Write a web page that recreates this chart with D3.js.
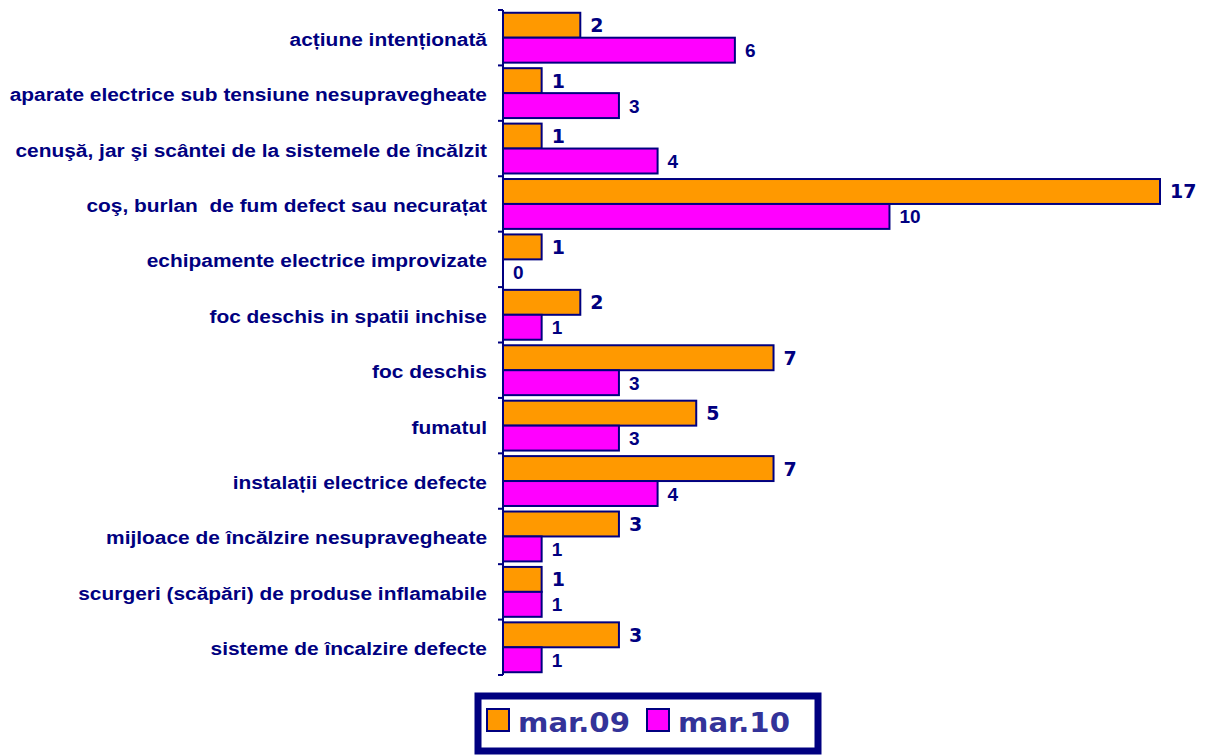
<!DOCTYPE html>
<html>
<head>
<meta charset="utf-8">
<script src="https://d3js.org/d3.v7.min.js"></script>
<style>
  body { margin: 0; background: #fff; }
</style>
</head>
<body>
<div id="chart"></div>
<script>
// Data
var categories = [
  "acțiune intenționată",
  "aparate electrice sub tensiune nesupravegheate",
  "cenuşă, jar şi scântei de la sistemele de încălzit",
  "coş, burlan  de fum defect sau necurațat",
  "echipamente electrice improvizate",
  "foc deschis in spatii inchise",
  "foc deschis",
  "fumatul",
  "instalații electrice defecte",
  "mijloace de încălzire nesupravegheate",
  "scurgeri (scăpări) de produse inflamabile",
  "sisteme de încalzire defecte"
];
var seriesNames = ["mar.09", "mar.10"];
var mar09 = [2, 1, 1, 17, 1, 2, 7, 5, 7, 3, 1, 3];
var mar10 = [6, 3, 4, 10, 0, 1, 3, 3, 4, 1, 1, 1];
var seriesColors = ["#FF9900", "#FF00FF"];

var width = 1208, height = 756;
var navy = "#000080";

var rows = categories.map(function(c, i){
  return {cat: c, values: [mar09[i], mar10[i]]};
});

var svg = d3.select("#chart").append("svg")
  .attr("width", width)
  .attr("height", height);

// Scales
var y = d3.scaleBand()
  .domain(categories)
  .range([10, 675])
  .paddingInner(0.1)
  .paddingOuter(0.05);

var ySub = d3.scaleBand()
  .domain(seriesNames)
  .range([0, y.bandwidth()]);

var x = d3.scaleLinear()
  .domain([0, 17])
  .range([503, 1160]);

// Category labels (slightly wide bold sans, as in the original)
svg.append("g").selectAll("text")
  .data(categories)
  .enter()
  .append("text")
  .attr("transform", function(d){
    return "translate(487," + (y(d) + y.bandwidth() / 2 + 8) + ") scale(1.1,1)";
  })
  .attr("text-anchor", "end")
  .style("white-space", "pre")
  .style("font-family", "'Liberation Sans', Arial, sans-serif")
  .style("font-weight", "bold")
  .style("font-size", "19px")
  .style("fill", navy)
  .text(function(d){ return d; });

// Bars
var groups = svg.append("g").selectAll("g")
  .data(rows)
  .enter()
  .append("g")
  .attr("transform", function(d){ return "translate(0," + y(d.cat) + ")"; });

groups.selectAll("rect")
  .data(function(d){ return d.values.map(function(v, k){ return {v: v, k: k}; }); })
  .enter()
  .filter(function(d){ return d.v > 0; })
  .append("rect")
  .attr("x", x(0))
  .attr("y", function(d){ return ySub(seriesNames[d.k]); })
  .attr("width", function(d){ return x(d.v) - x(0); })
  .attr("height", ySub.bandwidth())
  .attr("fill", function(d){ return seriesColors[d.k]; })
  .attr("stroke", navy)
  .attr("stroke-width", 2);

// Value labels: mar.09 in a Verdana-like face, mar.10 in an Arial-like face
groups.selectAll("text")
  .data(function(d){ return d.values.map(function(v, k){ return {v: v, k: k}; }); })
  .enter()
  .append("text")
  .attr("x", function(d){ return x(d.v) + (d.k == 0 ? 10 : 10); })
  .attr("y", function(d){
    return ySub(seriesNames[d.k]) + ySub.bandwidth() / 2 + 7;
  })
  .style("font-family", function(d){
    return d.k == 0 ? "'DejaVu Sans', Verdana, sans-serif" : "'Liberation Sans', Arial, sans-serif";
  })
  .style("font-weight", "bold")
  .style("font-size", "19px")
  .style("fill", navy)
  .text(function(d){ return d.v; });

// Axis with ticks between categories
var axisG = svg.append("g");
axisG.append("line")
  .attr("x1", x(0)).attr("x2", x(0))
  .attr("y1", 10).attr("y2", 675)
  .attr("stroke", navy).attr("stroke-width", 2);

var tickYs = categories.map(function(c){ return y(c) - y.step() * y.paddingInner() / 2; });
tickYs.push(675);
tickYs[0] = 10;
axisG.selectAll(".tick")
  .data(tickYs)
  .enter()
  .append("line")
  .attr("class", "tick")
  .attr("x1", x(0) - 5).attr("x2", x(0))
  .attr("y1", function(d){ return d; })
  .attr("y2", function(d){ return d; })
  .attr("stroke", navy).attr("stroke-width", 2);

// Legend
var legend = svg.append("g");
legend.append("rect")
  .attr("x", 478).attr("y", 696)
  .attr("width", 340).attr("height", 55)
  .attr("fill", "#fff")
  .attr("stroke", navy)
  .attr("stroke-width", 7);

var legendX = [487, 647];
seriesNames.forEach(function(name, i){
  legend.append("rect")
    .attr("x", legendX[i]).attr("y", 709)
    .attr("width", 22).attr("height", 22)
    .attr("fill", seriesColors[i])
    .attr("stroke", navy)
    .attr("stroke-width", 2);
  legend.append("text")
    .attr("transform", "translate(" + (legendX[i] + 31) + ",732) scale(1.08,1)")
    .style("font-family", "'DejaVu Sans', Verdana, sans-serif")
    .style("font-weight", "bold")
    .style("font-size", "27px")
    .style("fill", "#333399")
    .text(name);
});
</script>
</body>
</html>
